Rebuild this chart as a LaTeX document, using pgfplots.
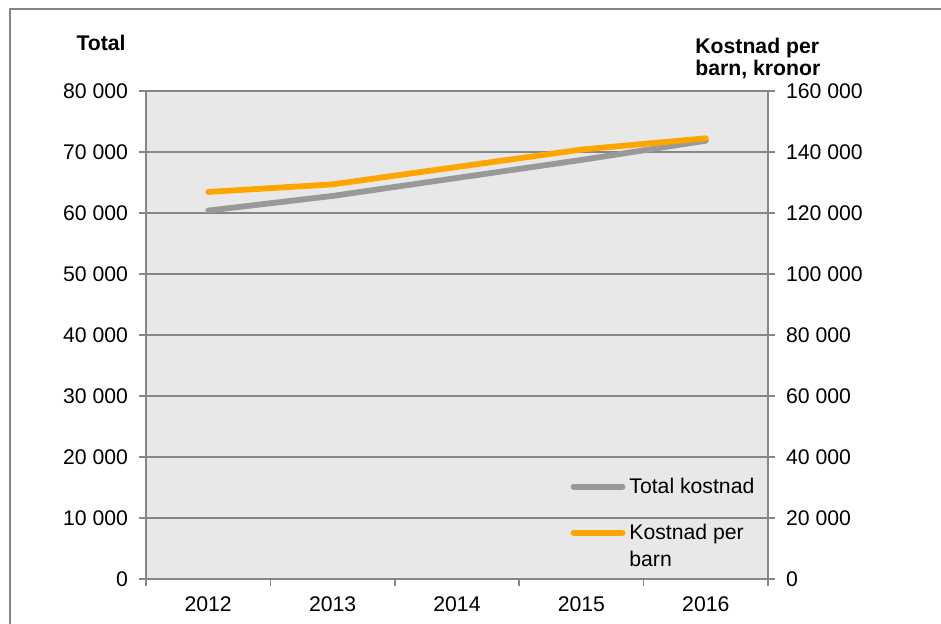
\documentclass[border=0pt]{standalone}
\usepackage{fontspec}
\setmainfont{Liberation Sans}
\usepackage{pgfplots}
\pgfplotsset{compat=1.18}
\definecolor{grayline}{RGB}{153,153,153}
\definecolor{orangeline}{RGB}{255,165,0}
\definecolor{axisgray}{RGB}{134,134,134}
\definecolor{plotbg}{RGB}{232,232,232}
\newcommand\chartfont{\fontsize{10.6pt}{13.5pt}\selectfont}
\pgfplotsset{
  base/.style={
    at={(73pt,22pt)}, anchor=south west, scale only axis,
    width=311pt, height=244pt,
    xmin=-0.5, xmax=4.5,
    font=\chartfont,
    tick align=outside, major tick length=3.5pt, minor tick length=3.5pt,
    axis line style={axisgray, line width=0.75pt},
    y tick style={axisgray, line width=0.75pt},
    scaled y ticks=false,
    yticklabel style={/pgf/number format/fixed, /pgf/number format/1000 sep={\ }, /pgf/number format/assume math mode=true},
    clip=false,
  }
}
\begin{document}
\begin{tikzpicture}[x=1pt,y=1pt]
\useasboundingbox (0,0) rectangle (470.5,311.5);
\draw[axisgray, line width=1pt] (4.75,-5) -- (4.75,306.75) -- (476,306.75);
\begin{axis}[base,
  axis background/.style={fill=plotbg},
  ymin=0, ymax=80000, ytick={0,10000,...,80000},
  axis y line*=left, axis x line*=bottom,
  ymajorgrids, grid style={axisgray, line width=0.75pt},
  xtick={0,1,2,3,4}, xticklabels={2012,2013,2014,2015,2016},
  major x tick style={draw=none},
  minor xtick={-0.5,0.5,1.5,2.5,3.5,4.5},
  minor x tick style={axisgray, line width=0.75pt},
  yticklabel style={xshift=-2pt},
  xticklabel style={yshift=-2pt},
  legend cell align=left,
  legend style={draw=none, fill=none, at={(0.682,0.215)}, anchor=north west,
    row sep=9.8pt, inner sep=0pt, font=\chartfont,
    cells={anchor=base west}},
  legend image code/.code={\draw[#1, line cap=round] (1.5pt,3.6pt) -- (26pt,3.6pt);},
]
\addplot[grayline, line width=2.9pt, line cap=round, line join=round] coordinates {
  (0,60400) (1,62800) (2,65750) (3,68700) (4,71850)};
\addlegendentry{Total kostnad}
\addlegendimage{orangeline, line width=2.9pt}
\addlegendentry{\vtop{\hbox{Kostnad per}\hbox{barn}}}
\end{axis}
\begin{axis}[base,
  ymin=0, ymax=160000, ytick={0,20000,...,160000},
  axis y line*=right, axis x line=none,
  yticklabel style={xshift=2pt},
]
\addplot[orangeline, line width=2.9pt, line cap=round, line join=round] coordinates {
  (0,126900) (1,129400) (2,135100) (3,140800) (4,144500)};
\end{axis}
\node[font=\chartfont\bfseries, anchor=base east, inner sep=0pt] at (63,286.5) {Total};
\node[font=\chartfont\bfseries, anchor=base west, inner sep=0pt] at (347.5,285) {Kostnad per};
\node[font=\chartfont\bfseries, anchor=base west, inner sep=0pt] at (347.5,274) {barn, kronor};
\end{tikzpicture}
\end{document}
